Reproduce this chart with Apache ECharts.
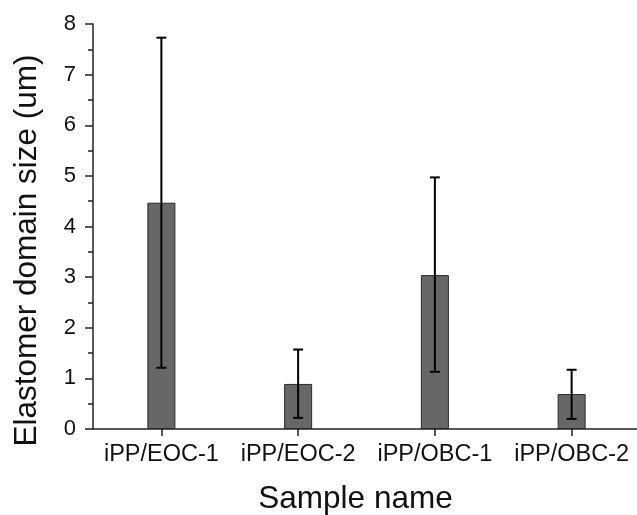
<!DOCTYPE html>
<html>
<head>
<meta charset="utf-8">
<script src="https://cdn.jsdelivr.net/npm/echarts@6/dist/echarts.min.js"></script>
<style>html,body{margin:0;padding:0;background:#fff}#c{width:637px;height:515px}</style>
</head>
<body>
<div id="c"></div>
<script>
var categories = ['iPP/EOC-1', 'iPP/EOC-2', 'iPP/OBC-1', 'iPP/OBC-2'];
var means = [4.47, 0.89, 3.04, 0.69];
var errLow = [1.21, 0.22, 1.13, 0.20];
var errHigh = [7.73, 1.57, 4.97, 1.17];
var yTicks = [0, 1, 2, 3, 4, 5, 6, 7, 8];

var chart = echarts.init(document.getElementById('c'), null, {renderer: 'canvas'});
var font = 'Liberation Sans, Arial, Helvetica, sans-serif';
var errData = categories.map(function (c, i) { return [i, errLow[i], errHigh[i]]; });

chart.setOption({
  animation: false,
  backgroundColor: '#fff',
  grid: {left: 93, right: -3, top: 24, bottom: 86, containLabel: false, outerBoundsMode: 'none'},
  xAxis: {
    type: 'category',
    data: categories,
    boundaryGap: true,
    name: 'Sample name',
    nameLocation: 'middle',
    nameGap: 54,
    nameTextStyle: {fontFamily: font, fontSize: 31.5, color: '#111', padding: [0, 22, 0, 0]},
    axisLine: {lineStyle: {color: '#222', width: 1.5}},
    axisTick: {show: true, alignWithLabel: true, inside: false, length: 7, lineStyle: {color: '#222', width: 1.5}},
    axisLabel: {fontFamily: font, fontSize: 23.5, color: '#111', margin: 14, interval: 0}
  },
  yAxis: {
    type: 'value',
    min: yTicks[0],
    max: yTicks[yTicks.length - 1],
    interval: 1,
    name: 'Elastomer domain size (um)',
    nameLocation: 'middle',
    nameGap: 50,
    nameTruncate: {maxWidth: 800},
    nameTextStyle: {fontFamily: font, fontSize: 31.5, color: '#111', overflow: 'none', padding: [0, 48, 0, 0]},
    axisLine: {show: true, lineStyle: {color: '#222', width: 1.5}},
    axisTick: {show: true, inside: false, length: 8, lineStyle: {color: '#222', width: 1.5}},
    minorTick: {show: true, splitNumber: 2, length: 5, lineStyle: {color: '#222', width: 1.5}},
    splitLine: {show: false},
    axisLabel: {fontFamily: font, fontSize: 22, color: '#111', margin: 17,
      formatter: function (v) { return yTicks.indexOf(v) >= 0 ? String(v) : ''; }}
  },
  series: [
    {
      type: 'bar',
      data: means,
      barWidth: 28,
      itemStyle: {color: '#676767', borderColor: '#2a2a2a', borderWidth: 1}
    },
    {
      type: 'custom',
      data: errData,
      z: 10,
      renderItem: function (params, api) {
        var x = api.value(0);
        var lo = api.coord([x, api.value(1)]);
        var hi = api.coord([x, api.value(2)]);
        var cap = 5;
        var st = {stroke: '#000', lineWidth: 2};
        return {
          type: 'group',
          children: [
            {type: 'line', shape: {x1: hi[0], y1: hi[1], x2: lo[0], y2: lo[1]}, style: st},
            {type: 'line', shape: {x1: hi[0] - cap, y1: hi[1], x2: hi[0] + cap, y2: hi[1]}, style: st},
            {type: 'line', shape: {x1: lo[0] - cap, y1: lo[1], x2: lo[0] + cap, y2: lo[1]}, style: st}
          ]
        };
      }
    }
  ]
});
</script>
</body>
</html>
